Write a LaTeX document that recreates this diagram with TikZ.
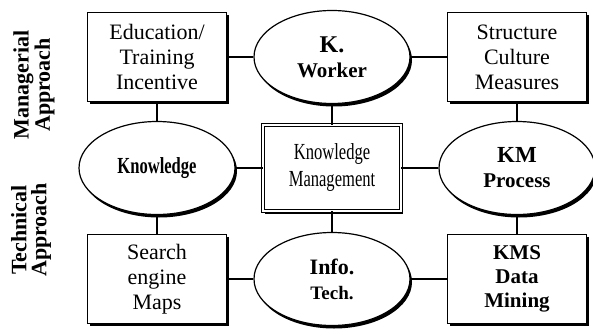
\documentclass[tikz,border=0pt]{standalone}
\usepackage{fontspec}
\setmainfont{Liberation Serif}
\newfontfamily\narrowfont[FakeStretch=0.72]{Liberation Serif}
\usetikzlibrary{positioning,shapes.geometric,shadows}

\begin{document}
\begin{tikzpicture}
			[x=1pt,y=1pt,node distance=111pt and 175pt,on grid,
			block/.style={rectangle,draw,line width=1.2pt,fill=white,minimum width=139pt,minimum height=89pt,align=center,
				font=\fontsize{22}{25}\selectfont,
				drop shadow={shadow xshift=2pt,shadow yshift=-2.5pt,fill=black,opacity=1}},
			hub/.style={block,double,double distance=2.5pt,line width=0.9pt,minimum width=138pt,minimum height=86pt,
				font=\narrowfont\fontsize{23}{27}\selectfont},
			actor/.style={ellipse,draw,line width=1.2pt,fill=white,minimum width=156pt,minimum height=93pt,align=center,
				font=\bfseries\fontsize{21}{25}\selectfont,
				drop shadow={shadow xshift=2pt,shadow yshift=-3pt,fill=black,opacity=1}},
			link/.style={draw,line width=1.1pt},
			approach/.style={rotate=90,align=center,inner sep=0pt,font=\bfseries\fontsize{22}{20}\selectfont}]
			
			\useasboundingbox (0,0) rectangle (593,335);
			
			\node [hub](km) at (332,167)                     {Knowledge\\Management};
			
			\node [actor](kw)    [above=of km]             {{\fontsize{24}{25}\selectfont K.}\\Worker}
				edge             [link] (km);
			\node [block](ed)    [left=of kw]              {Education/\\Training\\Incentive}
				edge             [link] (kw);
			\node [block](st)    [right=185pt of kw]       {Structure\\Culture\\Measures}
				edge             [link] (kw);
				
			\node [actor,font=\narrowfont\bfseries\fontsize{23}{25}\selectfont](kn) [left=of km] {Knowledge}
				edge             [link] (km)
				edge             [link] (ed);
			\node [actor](kp)    [right=185pt of km]       {{\fontsize{23}{25}\selectfont KM}\\Process}
				edge             [link] (km)
				edge             [link] (st);
				
			\node [actor](it)    [below=of km]             {{\fontsize{22}{25}\selectfont Info.}\\{\fontsize{19}{25}\selectfont Tech.}}
				edge             [link] (km);
			\node [block](se)    [left=of it]              {Search\\engine\\Maps}
				edge             [link] (it)
				edge             [link] (kn);
			\node [block,font=\bfseries\fontsize{21}{24}\selectfont](kd) [right=185pt of it] {KMS\\Data\\Mining}
				edge             [link] (it)
				edge             [link] (kp);
				
			\node [approach](mgr) at (34,250)              {Managerial\\Approach};
			\node [approach](tec) at (31,105)              {Technical\\Approach};
			\end{tikzpicture}
\end{document}
